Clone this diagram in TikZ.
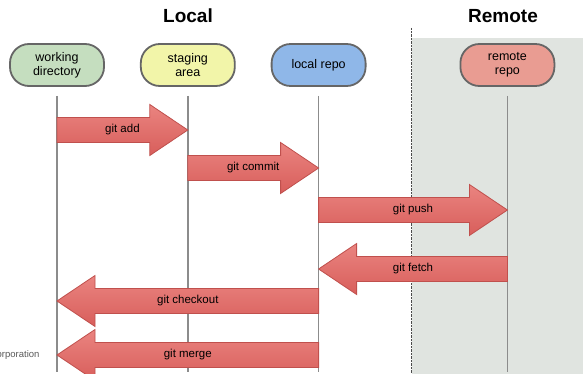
\documentclass[tikz,border=0pt]{standalone}
\usepackage{fontspec}
\setmainfont{Liberation Sans}
\usetikzlibrary{positioning, calc}
\definecolor{wdgreen}{HTML}{C5DEBF}
\definecolor{sayellow}{HTML}{F2F5A9}
\definecolor{lrblue}{HTML}{8FB7E8}
\definecolor{rrred}{HTML}{E99C92}
\definecolor{areaborder}{HTML}{666666}
\definecolor{lifegray}{HTML}{8C8C8C}
\definecolor{remotebg}{HTML}{E0E4E0}
\definecolor{flowtop}{HTML}{EA8480}
\definecolor{flowbottom}{HTML}{D85E5B}
\definecolor{flowborder}{HTML}{C0504D}

\begin{document}
\begin{tikzpicture}[
  x=1pt, y=-1pt,            % one unit = one pixel of the picture
  area/.style={draw=areaborder, line width=1.8pt, rounded corners=19pt, minimum width=94pt, minimum height=42pt, align=center, font=\fontsize{12.5}{14}\selectfont},
  lifeline/.style={draw=lifegray, line width=1.6pt},
  heading/.style={font=\fontsize{19}{22}\selectfont\bfseries},
  flowlabel/.style={font=\fontsize{11.5}{13}\selectfont},
  flow/.style={draw=flowborder, line width=0.8pt, line join=miter, top color=flowtop, bottom color=flowbottom,
    to path={let \p1=(\tikztostart), \p2=(\tikztotarget), \n1={ifthenelse(\x2>\x1,\x2-38pt,\x2+38pt)} in
      ({\x1},{\y1+12.5pt}) -- ({\n1*1pt},{\y1+12.5pt}) -- ({\n1*1pt},{\y1+25.5pt}) -- ({\x2},{\y1})
      -- ({\n1*1pt},{\y1-25.5pt}) -- ({\n1*1pt},{\y1-12.5pt}) -- ({\x1},{\y1-12.5pt}) -- cycle
      node[flowlabel] at ($(\p1)!0.5!(\p2)$) {#1}}}
]
  \clip (0,0) rectangle (583,374);
  % Remote side
  \fill[remotebg] (412,38) rectangle (583,374);
  \draw[densely dotted, draw=black!70] (411,28) -- (411,374);
  \node[heading] (local) at (188,16) {Local};
  \node[heading] (remote) at (503,16) {Remote};

  % Areas
  \node[area, fill=wdgreen] (wd) at (57,65) {working\\directory};
  \node[area, fill=sayellow, right=35pt of wd] (sa) {staging\\area};
  \node[area, fill=lrblue, right=35pt of sa] (lr) {local repo};
  \node[area, fill=rrred, right=93pt of lr] (rr) {remote\\repo};

  % Lifelines
  \foreach \a in {wd, sa, lr, rr}
    \draw[lifeline] ([yshift=-9pt]\a.south) -- (\a |- 0,372);

  % Commands
  \draw[flow=git add] (wd |- 0,130) to (sa |- 0,130);
  \draw[flow=git commit] (sa |- 0,168) to (lr |- 0,168);
  \draw[flow=git push] (lr |- 0,210) to (rr |- 0,210);
  \draw[flow=git fetch] (rr |- 0,269) to (lr |- 0,269);
  \draw[flow=git checkout] (lr |- 0,301) to (wd |- 0,301);
  \draw[flow=git merge] (lr |- 0,355) to (wd |- 0,355);

  \node[anchor=east, text=black!65, font=\fontsize{9.5}{11}\selectfont] (corp) at (43,355) {orporation};
\end{tikzpicture}
\end{document}
